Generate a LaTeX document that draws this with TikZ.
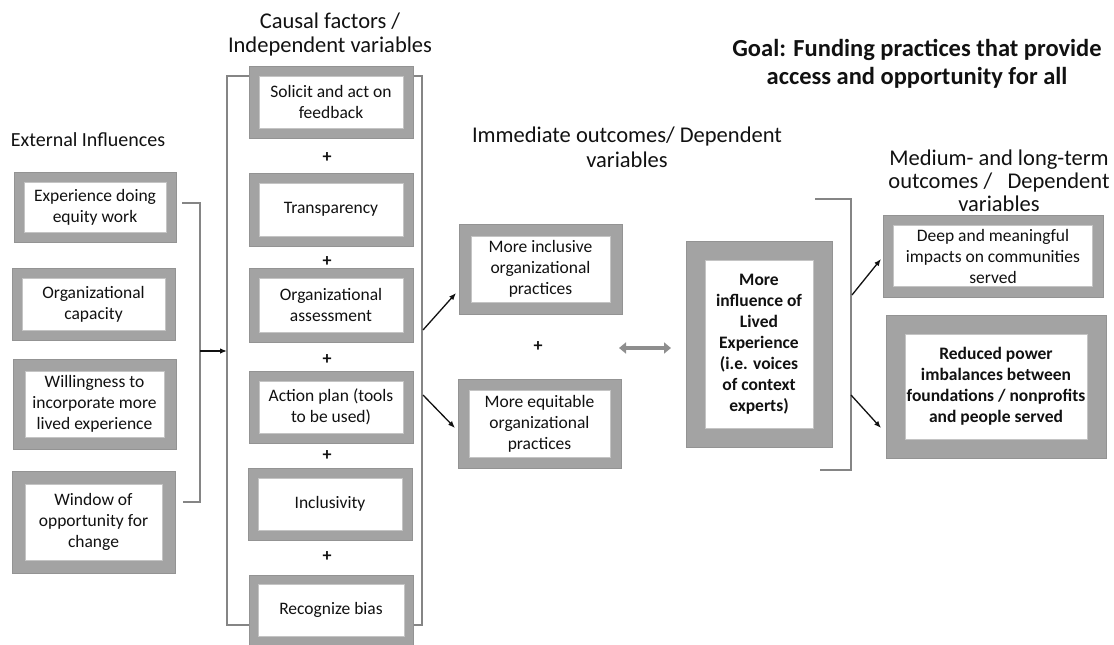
\documentclass[tikz,border=0pt]{standalone}
\usepackage{fontspec}
\setmainfont{Carlito}
\usetikzlibrary{arrows.meta}

\definecolor{boxgray}{HTML}{A3A3A3}
\definecolor{edgegray}{HTML}{939393}
\definecolor{rimgray}{HTML}{C4C4C4}
\definecolor{linegray}{HTML}{858585}
\definecolor{dblgray}{HTML}{8E8E8E}
\definecolor{inkcol}{HTML}{111111}

\tikzset{
  outerbox/.style={draw=edgegray, line width=0.6pt, fill=boxgray, inner sep=0pt},
  innerbox/.style={draw=rimgray, line width=0.8pt, fill=white, inner sep=0pt,
                   align=center, text=inkcol, font=\fontsize{17.5pt}{21pt}\selectfont},
  heading/.style={align=center, text=inkcol, inner sep=0pt},
  plus/.style={text=inkcol, inner sep=0pt, font=\bfseries\fontsize{18pt}{21pt}\selectfont},
  bracket/.style={draw=linegray, line width=1.3pt},
  flow/.style={draw=inkcol, line width=1.3pt, -{Latex[length=7pt,width=5.5pt]}},
  twoway/.style={draw=dblgray, line width=4pt,
                 {Triangle[length=7pt,width=11pt]}-{Triangle[length=7pt,width=11pt]}},
}

% grey framed box: [extra inner style] name, centre x, centre y, width, height, frame, text
\newcommand\gbox[8][]{%
  \node[outerbox, minimum width=#5pt, minimum height=#6pt] (#2) at (#3pt,-#4pt) {};
  \node[innerbox, minimum width=#5pt-2*#7pt, minimum height=#6pt-2*#7pt, #1] (#2-in) at (#2.center) {#8};
}

\begin{document}
\begin{tikzpicture}
\useasboundingbox (0,0) rectangle (1114pt,-645pt);

% frame grouping the causal factors (drawn first, boxes sit on top)
\coordinate (cf-nw) at (227pt,-76pt);
\coordinate (cf-se) at (422pt,-625pt);
\draw[bracket] (cf-nw) rectangle (cf-se);

% headings
\node[heading, font=\fontsize{22.5pt}{24pt}\selectfont] (h-cause) at (330pt,-35pt)
  {Causal factors /\\Independent variables};
\node[heading, font=\fontsize{20pt}{24pt}\selectfont] (h-ext) at (88pt,-140pt)
  {External Influences};
\node[heading, font=\fontsize{22.5pt}{25pt}\selectfont] (h-imm) at (627pt,-147pt)
  {Immediate outcomes/ Dependent\\variables};
\node[heading, font=\fontsize{22.5pt}{23pt}\selectfont] (h-med) at (999pt,-181pt)
  {Medium- and long-term\\outcomes /\ \ \ Dependent\\variables};
\node[heading, font=\bfseries\fontsize{24.5pt}{28pt}\selectfont] (h-goal) at (917pt,-64pt)
  {Goal: Funding practices that provide\\access and opportunity for all};

% external influences
\gbox{L1}{95}{207}{162}{70}{10}{Experience doing\\equity work}
\gbox{L2}{93.5}{304}{163}{72}{10}{Organizational\\capacity}
\gbox{L3}{94.5}{404}{163}{90}{12}{Willingness to\\incorporate more\\lived experience}
\gbox{L4}{93.5}{522}{163}{102}{13}{Window of\\opportunity for\\change}

% causal factors
\gbox{M1}{331}{102}{164}{72}{10}{Solicit and act on\\feedback}
\gbox{M2}{331}{209.5}{164}{73}{10}{Transparency}
\gbox{M3}{331}{305}{164}{74}{10}{Organizational\\assessment}
\gbox{M4}{331}{407}{164}{72}{10}{Action plan (tools\\to be used)}
\gbox{M5}{330}{504}{164}{72}{10}{Inclusivity}
\gbox{M6}{331}{610}{164}{70}{9}{Recognize bias}

\node[plus] (p1) at (327pt,-158pt) {+};
\node[plus] (p2) at (327pt,-262pt) {+};
\node[plus] (p3) at (327pt,-360pt) {+};
\node[plus] (p4) at (327pt,-456pt) {+};
\node[plus] (p5) at (327pt,-557pt) {+};

% immediate outcomes
\gbox{G}{540.5}{269}{163}{90}{12}{More inclusive\\organizational\\practices}
\gbox{H}{539.5}{423.5}{163}{89}{11}{More equitable\\organizational\\practices}
\node[plus] (p6) at (538pt,-347pt) {+};

% lived experience
\gbox[font=\bfseries\fontsize{17.5pt}{21pt}\selectfont]{I}{759}{344}{146}{206}{19}
  {More\\influence of\\Lived\\Experience\\(i.e. voices\\of context\\experts)}

% medium- and long-term outcomes
\gbox{J}{993}{256}{220}{82}{10.5}{Deep and meaningful\\impacts on communities\\served}
\gbox[font=\bfseries\fontsize{17.5pt}{21pt}\selectfont]{K}{996}{386.5}{220}{143}{19}
  {Reduced power\\imbalances between\\foundations / nonprofits\\and people served}

% bracket joining the external influences
\coordinate (eb-top)  at (182pt,-203pt);
\coordinate (eb-tr)   at (200pt,-203pt);
\coordinate (eb-br)   at (200pt,-502pt);
\coordinate (eb-bot)  at (183pt,-502pt);
\coordinate (eb-mid)  at (200pt,-351pt);
\coordinate (cf-in)   at (227pt,-351pt);
\draw[bracket] (eb-top) -- (eb-tr) -- (eb-br) -- (eb-bot);
\draw[flow] (eb-mid) -- (cf-in);

% causal factors lead to immediate outcomes
\coordinate (cf-o1) at (423pt,-330pt);
\coordinate (cf-o2) at (423pt,-395pt);
\coordinate (G-in1) at (456pt,-293pt);
\coordinate (H-in1) at (455pt,-428pt);
\draw[flow] (cf-o1) -- (G-in1);
\draw[flow] (cf-o2) -- (H-in1);

% two-way link with lived experience
\coordinate (tw-l) at (619pt,-348pt);
\coordinate (tw-r) at (671pt,-348pt);
\draw[twoway] (tw-l) -- (tw-r);

% bracket leading to the longer-term outcomes
\coordinate (rb-top) at (815pt,-199pt);
\coordinate (rb-tr)  at (851pt,-199pt);
\coordinate (rb-br)  at (851pt,-470pt);
\coordinate (rb-bot) at (820pt,-470pt);
\draw[bracket] (rb-top) -- (rb-tr) -- (rb-br) -- (rb-bot);
\coordinate (rb-o1) at (852pt,-295pt);
\coordinate (rb-o2) at (851pt,-395pt);
\coordinate (J-in1) at (881pt,-259pt);
\coordinate (K-in1) at (881pt,-428pt);
\draw[flow] (rb-o1) -- (J-in1);
\draw[flow] (rb-o2) -- (K-in1);

\end{tikzpicture}
\end{document}
